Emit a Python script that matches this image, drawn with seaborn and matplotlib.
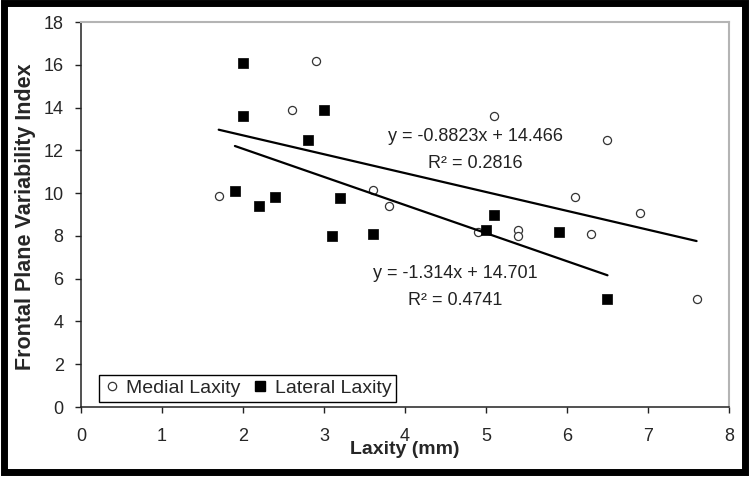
import matplotlib
matplotlib.use("Agg")
import matplotlib.pyplot as plt
from matplotlib.lines import Line2D
from matplotlib.patches import Rectangle
from matplotlib.transforms import Bbox, TransformedBbox
import seaborn as sns
import pandas as pd
import numpy as np

# values
medial_laxity = [1.7, 2.6, 2.9, 3.6, 3.8, 4.9, 5.1, 5.4, 5.4, 6.1, 6.3, 6.5, 6.9, 7.6]
medial_fpvi = [9.85, 13.9, 16.2, 10.15, 9.4, 8.2, 13.6, 8.3, 8.0, 9.8, 8.1, 12.5, 9.05, 5.05]

lateral_laxity = [1.9, 2.0, 2.0, 2.2, 2.4, 2.8, 3.0, 3.1, 3.2, 3.6, 5.0, 5.1, 5.9, 6.5]
lateral_fpvi = [10.1, 16.1, 13.6, 9.4, 9.8, 12.5, 13.9, 8.0, 9.75, 8.1, 8.3, 9.0, 8.2, 5.05]

# trendlines as printed on the chart
medial_fit = (-0.8823, 14.466, 0.2816)
lateral_fit = (-1.314, 14.701, 0.4741)

medial = pd.DataFrame({"laxity": medial_laxity, "fpvi": medial_fpvi})
lateral = pd.DataFrame({"laxity": lateral_laxity, "fpvi": lateral_fpvi})

sns.set_theme(style="white")
plt.rcParams['font.family'] = ['Liberation Sans', 'DejaVu Sans']

fig = plt.figure(figsize=(7.53, 4.8), dpi=100)
ax = fig.add_axes([0.1076, 0.152, 0.8605, 0.8021])

sns.scatterplot(data=medial, x="laxity", y="fpvi", marker="o", s=34, color="white",
                edgecolor="#333333", linewidth=0.9, ax=ax, legend=False, zorder=2)
sns.scatterplot(data=lateral, x="laxity", y="fpvi", marker="s", s=62, color="black",
                edgecolor="black", linewidth=0.5, ax=ax, legend=False, zorder=2)

# trendlines over the data range
for df, (m, b, r2) in [(medial, medial_fit), (lateral, lateral_fit)]:
    xs = np.array([df["laxity"].min(), df["laxity"].max()])
    sns.lineplot(x=xs, y=m * xs + b, color="black", linewidth=1.6, ax=ax, zorder=3)

ax.text(4.87, 12.63, f"y = {medial_fit[0]}x + {medial_fit[1]}", ha="center", va="center",
        fontsize=13, color="#222222")
ax.text(4.87, 11.39, f"R² = {medial_fit[2]}", ha="center", va="center", fontsize=13, color="#222222")
ax.text(4.62, 6.22, f"y = {lateral_fit[0]}x + {lateral_fit[1]}", ha="center", va="center",
        fontsize=13, color="#222222")
ax.text(4.62, 4.96, f"R² = {lateral_fit[2]}", ha="center", va="center", fontsize=13, color="#222222")

ax.set_xlim(0, 8)
ax.set_ylim(0, 18)
ax.set_xticks(range(0, 9))
ax.set_yticks(range(0, 19, 2))
ax.tick_params(axis="x", length=4, width=1, color="#222222", pad=11, labelsize=13, direction="out")
ax.tick_params(axis="y", length=4.5, width=1, color="#222222", pad=8, labelsize=13, direction="out")
ax.tick_params(bottom=True, left=True)

for side in ["left", "bottom"]:
    ax.spines[side].set_color("#222222")
    ax.spines[side].set_linewidth(1.1)
for side in ["top", "right"]:
    ax.spines[side].set_visible(True)
    ax.spines[side].set_color("#b4b4b4")
    ax.spines[side].set_linewidth(1.5)

ax.set_xlabel("Laxity (mm)", fontsize=14, fontweight="bold")
ax.xaxis.label.set_verticalalignment("center")
ax.xaxis.set_label_coords(0.5, -0.111)
ax.set_ylabel("Frontal Plane Variability Index", fontsize=15.5, fontweight="bold")
ax.yaxis.label.set_verticalalignment("center")
ax.yaxis.set_label_coords(-0.085, 0.495)
# the original label is cut off near the top of the chart
clip = TransformedBbox(Bbox([[0, 0], [1, 416 / 480]]), fig.transFigure)
ax.yaxis.label.set_clip_box(clip)
ax.yaxis.label.set_clip_on(True)

handles = [
    Line2D([], [], linestyle="none", marker="o", markersize=6, markerfacecolor="white",
           markeredgecolor="#333333", markeredgewidth=0.9),
    Line2D([], [], linestyle="none", marker="s", markersize=6.5, markerfacecolor="black",
           markeredgecolor="black"),
]
leg = ax.legend(handles, ["Medial Laxity", "Lateral Laxity"], ncol=2, loc="lower left",
                bbox_to_anchor=(0.028, 0.013), borderaxespad=0, fontsize=14, frameon=True,
                fancybox=False, framealpha=1, edgecolor="black", handlelength=0.8,
                handletextpad=0.35, columnspacing=0.6, borderpad=0.25)
leg.get_frame().set_linewidth(1.0)

# thick black frame around the whole picture
fig.patches.append(Rectangle((3.5 / 753, 8 / 480), 741 / 753, 469 / 480, transform=fig.transFigure,
                             fill=False, edgecolor="black", linewidth=5.0))

fig.savefig("out.png", dpi=100)
